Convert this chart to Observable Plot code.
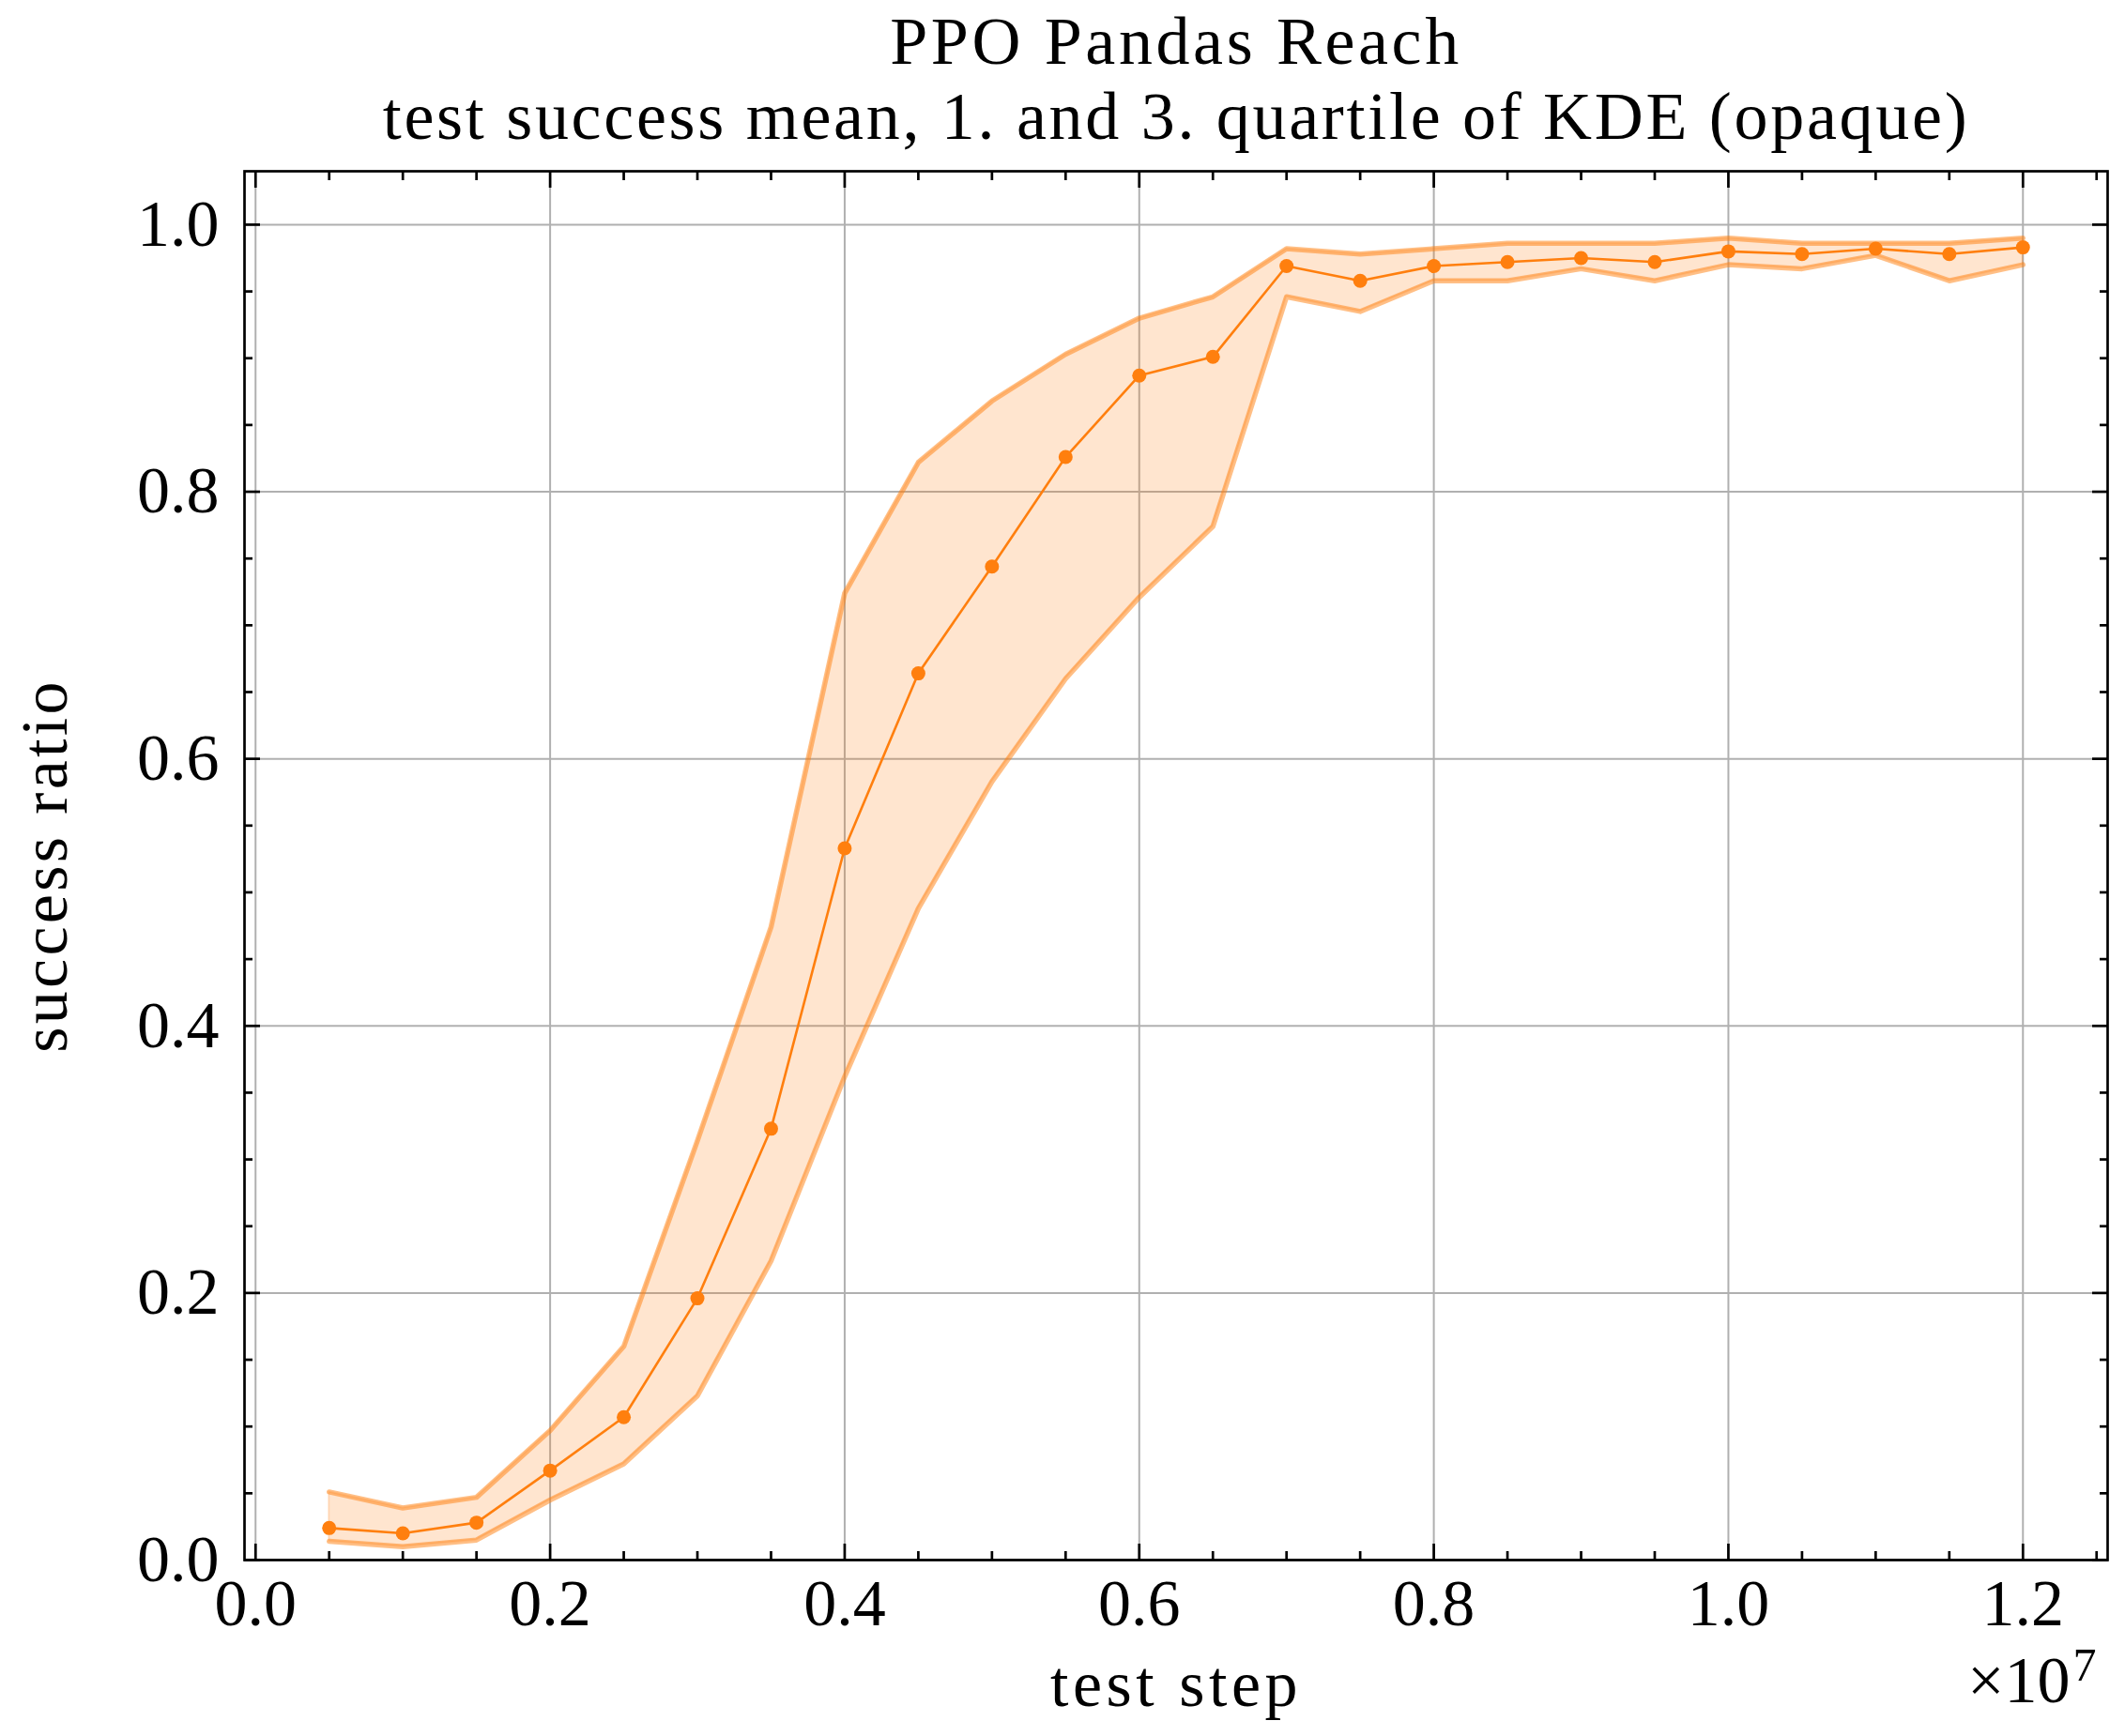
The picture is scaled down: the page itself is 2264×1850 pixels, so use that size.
<!DOCTYPE html>
<html>
<head>
<meta charset="utf-8">
<script src="https://cdn.jsdelivr.net/npm/d3@7"></script>
<script src="https://cdn.jsdelivr.net/npm/@observablehq/plot@0.6"></script>
<style>
  html, body { margin: 0; padding: 0; background: #fff; overflow: hidden; }
</style>
</head>
<body>
<div id="chart"></div>
<script>
// ---- data ----
const steps = [500000, 1000000, 1500000, 2000000, 2500000, 3000000, 3500000, 4000000,
  4500000, 5000000, 5500000, 6000000, 6500000, 7000000, 7500000, 8000000,
  8500000, 9000000, 9500000, 10000000, 10500000, 11000000, 11500000, 12000000];
const meanSuccess = [0.024, 0.020, 0.028, 0.067, 0.107, 0.196, 0.323, 0.533,
  0.664, 0.744, 0.826, 0.887, 0.901, 0.969, 0.958, 0.969,
  0.972, 0.975, 0.972, 0.980, 0.978, 0.982, 0.978, 0.983];
const q1Success = [0.014, 0.010, 0.015, 0.045, 0.072, 0.123, 0.224, 0.362,
  0.488, 0.583, 0.660, 0.721, 0.774, 0.946, 0.935, 0.958,
  0.958, 0.967, 0.958, 0.970, 0.967, 0.977, 0.958, 0.970];
const q3Success = [0.051, 0.039, 0.047, 0.097, 0.160, 0.314, 0.474, 0.724,
  0.822, 0.868, 0.903, 0.930, 0.946, 0.982, 0.978, 0.982,
  0.986, 0.986, 0.986, 0.990, 0.986, 0.986, 0.986, 0.990];

const xMajorTicks = [0, 2000000, 4000000, 6000000, 8000000, 10000000, 12000000];
const xTickLabels = ["0.0", "0.2", "0.4", "0.6", "0.8", "1.0", "1.2"];
const xMinorTicks = [500000, 1000000, 1500000, 2500000, 3000000, 3500000, 4500000, 5000000,
  5500000, 6500000, 7000000, 7500000, 8500000, 9000000, 9500000, 10500000, 11000000, 11500000, 12500000];
const yMajorTicks = [0, 0.2, 0.4, 0.6, 0.8, 1.0];
const yTickLabels = ["0.0", "0.2", "0.4", "0.6", "0.8", "1.0"];
const yMinorTicks = [0.05, 0.1, 0.15, 0.25, 0.3, 0.35, 0.45, 0.5, 0.55, 0.65, 0.7, 0.75, 0.85, 0.9, 0.95];

const titleLine1 = "PPO Pandas Reach";
const titleLine2 = "test success mean, 1. and 3. quartile of KDE (opaque)";
const xLabel = "test step";
const yLabel = "success ratio";
const xExponentBase = "×10";
const xExponent = "7";

const rows = steps.map((s, i) => ({step: s, mean: meanSuccess[i], q1: q1Success[i], q3: q3Success[i]}));

const orange = "#ff7f0e";
const font = "Liberation Serif";
const fs = 70;
const blank = () => "";
const tickStyle = {stroke: "black", strokeWidth: 2.7, label: null};

const plot = Plot.plot({
  width: 2264,
  height: 1850,
  marginLeft: 260,
  marginRight: 19,
  marginTop: 182,
  marginBottom: 188,
  style: {fontFamily: font, fontSize: fs + "px", background: "white", color: "black"},
  x: {domain: [-75000, 12575000], label: null},
  y: {domain: [0, 1.04], label: null},
  marks: [
    Plot.gridX(xMajorTicks, {stroke: "#b0b0b0", strokeOpacity: 1, strokeWidth: 2}),
    Plot.gridY(yMajorTicks, {stroke: "#b0b0b0", strokeOpacity: 1, strokeWidth: 2}),
    Plot.areaY(rows, {x: "step", y1: "q1", y2: "q3", fill: orange, fillOpacity: 0.2,
      stroke: orange, strokeOpacity: 0.2, strokeWidth: 2}),
    Plot.lineY(rows, {x: "step", y: "q1", stroke: orange, strokeOpacity: 0.5, strokeWidth: 5.5}),
    Plot.lineY(rows, {x: "step", y: "q3", stroke: orange, strokeOpacity: 0.5, strokeWidth: 5.5}),
    Plot.lineY(rows, {x: "step", y: "mean", stroke: orange, strokeWidth: 2.6}),
    Plot.dot(rows, {x: "step", y: "mean", r: 7.5, fill: orange, stroke: "none"}),
    Plot.frame({stroke: "black", strokeWidth: 2.7}),
    // bottom axis with labels, inward ticks
    Plot.axisX(xMajorTicks, {anchor: "bottom", tickSize: -17, tickPadding: 37,
      tickFormat: (d) => xTickLabels[xMajorTicks.indexOf(d)], fontSize: fs, ...tickStyle, fill: "black"}),
    Plot.axisX(xMinorTicks, {anchor: "bottom", tickSize: -9, tickFormat: blank, ...tickStyle}),
    Plot.axisX(xMajorTicks, {anchor: "top", tickSize: -17, tickFormat: blank, ...tickStyle}),
    Plot.axisX(xMinorTicks, {anchor: "top", tickSize: -9, tickFormat: blank, ...tickStyle}),
    // left axis with labels, inward ticks
    Plot.axisY(yMajorTicks, {anchor: "left", tickSize: -17, tickPadding: 44,
      tickFormat: (d) => yTickLabels[yMajorTicks.indexOf(d)], fontSize: fs, ...tickStyle, fill: "black"}),
    Plot.axisY(yMinorTicks, {anchor: "left", tickSize: -9, tickFormat: blank, ...tickStyle}),
    Plot.axisY(yMajorTicks, {anchor: "right", tickSize: -17, tickFormat: blank, ...tickStyle}),
    Plot.axisY(yMinorTicks, {anchor: "right", tickSize: -9, tickFormat: blank, ...tickStyle}),
    // titles and labels
    Plot.text([titleLine1], {text: (d) => d, frameAnchor: "top", textAnchor: "middle", lineAnchor: "bottom", dy: -115,
      fontSize: 72, fill: "black"}),
    Plot.text([titleLine2], {text: (d) => d, frameAnchor: "top", textAnchor: "middle", lineAnchor: "bottom", dy: -35,
      fontSize: 72, fill: "black"}),
    Plot.text([xLabel], {text: (d) => d, frameAnchor: "bottom", textAnchor: "middle", lineAnchor: "bottom", dy: 155,
      fontSize: fs, fill: "black"}),
    Plot.text([yLabel], {text: (d) => d, frameAnchor: "left", textAnchor: "middle", lineAnchor: "bottom",
      rotate: -90, dx: -190, fontSize: fs, fill: "black"}),
    Plot.text([xExponentBase], {text: (d) => d, frameAnchor: "bottom-right", textAnchor: "end", lineAnchor: "bottom",
      dx: -40, dy: 151, fontSize: fs, fill: "black"}),
    Plot.text([xExponent], {text: (d) => d, frameAnchor: "bottom-right", textAnchor: "start", lineAnchor: "bottom",
      dx: -37, dy: 128, fontSize: 50, fill: "black"})
  ]
});

// widen the serif text a little to approximate the Computer Modern widths of the reference
const spacing = new Map([[titleLine1, 3.6], [titleLine2, 2.7], [xLabel, 4.5], [yLabel, 3.3]]);
d3.select(plot).selectAll("text").each(function () {
  const t = this.textContent;
  if (spacing.has(t)) this.style.letterSpacing = spacing.get(t) + "px";
});
document.getElementById("chart").appendChild(plot);
</script>
</body>
</html>
